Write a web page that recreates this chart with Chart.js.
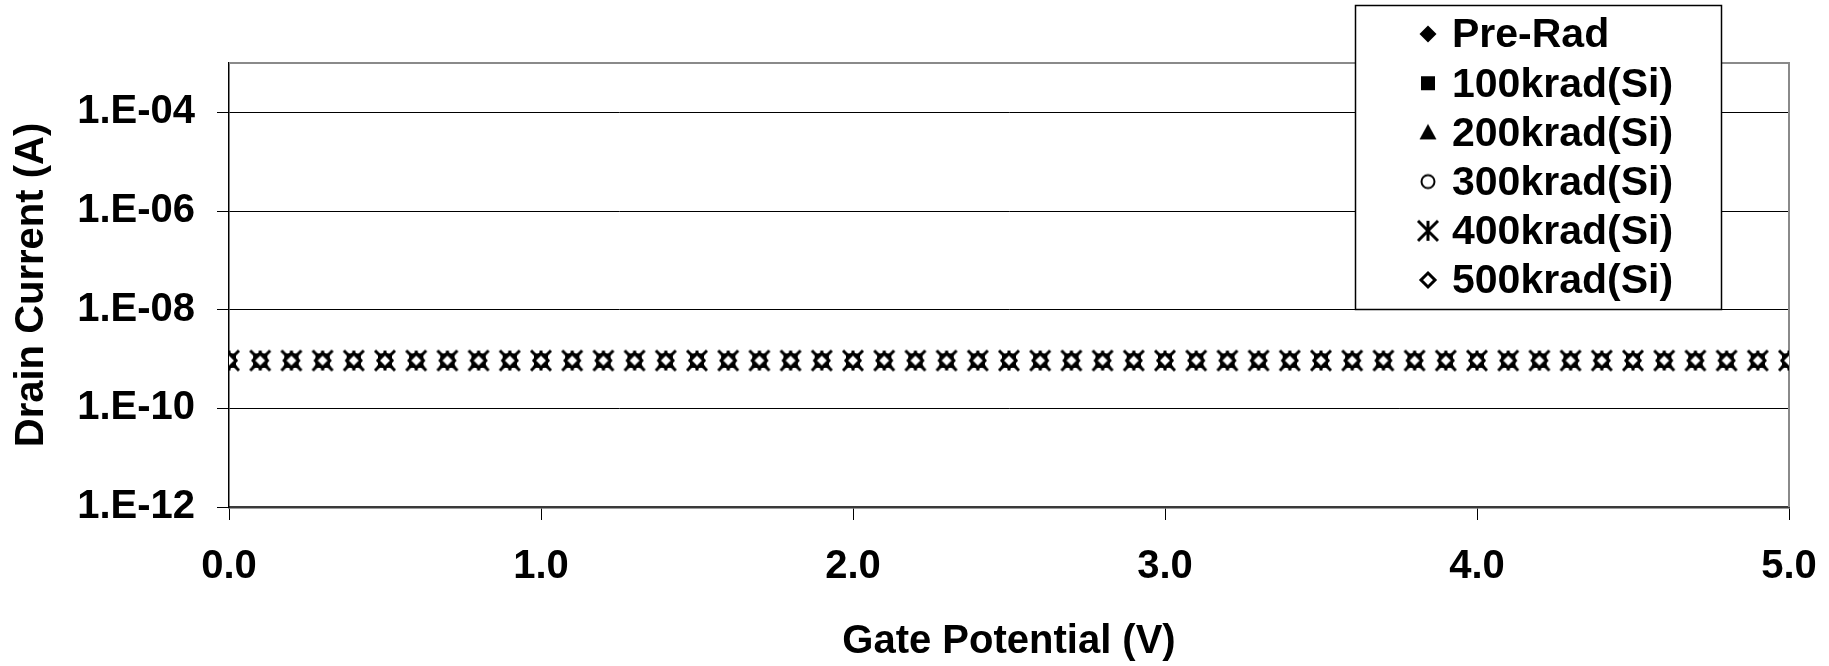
<!DOCTYPE html>
<html><head><meta charset="utf-8">
<script src="https://cdn.jsdelivr.net/npm/chart.js@4/dist/chart.umd.min.js"></script>
<style>html,body{margin:0;padding:0;background:#fff}#wrap{width:1829px;height:666px;position:relative}</style>
</head><body><div id="wrap"><canvas id="c" width="1829" height="666"></canvas></div>
<script>
// ---- data ----
const gateV = [0.0,0.1,0.2,0.3,0.4,0.5,0.6,0.7,0.8,0.9,1.0,1.1,1.2,1.3,1.4,1.5,1.6,1.7,1.8,1.9,2.0,2.1,2.2,2.3,2.4,2.5,2.6,2.7,2.8,2.9,3.0,3.1,3.2,3.3,3.4,3.5,3.6,3.7,3.8,3.9,4.0,4.1,4.2,4.3,4.4,4.5,4.6,4.7,4.8,4.9,5.0];
const preRad  = [9.3e-10,9.3e-10,9.3e-10,9.3e-10,9.3e-10,9.3e-10,9.3e-10,9.3e-10,9.3e-10,9.3e-10,9.3e-10,9.3e-10,9.3e-10,9.3e-10,9.3e-10,9.3e-10,9.3e-10,9.3e-10,9.3e-10,9.3e-10,9.3e-10,9.3e-10,9.3e-10,9.3e-10,9.3e-10,9.3e-10,9.3e-10,9.3e-10,9.3e-10,9.3e-10,9.3e-10,9.3e-10,9.3e-10,9.3e-10,9.3e-10,9.3e-10,9.3e-10,9.3e-10,9.3e-10,9.3e-10,9.3e-10,9.3e-10,9.3e-10,9.3e-10,9.3e-10,9.3e-10,9.3e-10,9.3e-10,9.3e-10,9.3e-10,9.3e-10];
const rad100k = [9.3e-10,9.3e-10,9.3e-10,9.3e-10,9.3e-10,9.3e-10,9.3e-10,9.3e-10,9.3e-10,9.3e-10,9.3e-10,9.3e-10,9.3e-10,9.3e-10,9.3e-10,9.3e-10,9.3e-10,9.3e-10,9.3e-10,9.3e-10,9.3e-10,9.3e-10,9.3e-10,9.3e-10,9.3e-10,9.3e-10,9.3e-10,9.3e-10,9.3e-10,9.3e-10,9.3e-10,9.3e-10,9.3e-10,9.3e-10,9.3e-10,9.3e-10,9.3e-10,9.3e-10,9.3e-10,9.3e-10,9.3e-10,9.3e-10,9.3e-10,9.3e-10,9.3e-10,9.3e-10,9.3e-10,9.3e-10,9.3e-10,9.3e-10,9.3e-10];
const rad200k = [9.3e-10,9.3e-10,9.3e-10,9.3e-10,9.3e-10,9.3e-10,9.3e-10,9.3e-10,9.3e-10,9.3e-10,9.3e-10,9.3e-10,9.3e-10,9.3e-10,9.3e-10,9.3e-10,9.3e-10,9.3e-10,9.3e-10,9.3e-10,9.3e-10,9.3e-10,9.3e-10,9.3e-10,9.3e-10,9.3e-10,9.3e-10,9.3e-10,9.3e-10,9.3e-10,9.3e-10,9.3e-10,9.3e-10,9.3e-10,9.3e-10,9.3e-10,9.3e-10,9.3e-10,9.3e-10,9.3e-10,9.3e-10,9.3e-10,9.3e-10,9.3e-10,9.3e-10,9.3e-10,9.3e-10,9.3e-10,9.3e-10,9.3e-10,9.3e-10];
const rad300k = [9.3e-10,9.3e-10,9.3e-10,9.3e-10,9.3e-10,9.3e-10,9.3e-10,9.3e-10,9.3e-10,9.3e-10,9.3e-10,9.3e-10,9.3e-10,9.3e-10,9.3e-10,9.3e-10,9.3e-10,9.3e-10,9.3e-10,9.3e-10,9.3e-10,9.3e-10,9.3e-10,9.3e-10,9.3e-10,9.3e-10,9.3e-10,9.3e-10,9.3e-10,9.3e-10,9.3e-10,9.3e-10,9.3e-10,9.3e-10,9.3e-10,9.3e-10,9.3e-10,9.3e-10,9.3e-10,9.3e-10,9.3e-10,9.3e-10,9.3e-10,9.3e-10,9.3e-10,9.3e-10,9.3e-10,9.3e-10,9.3e-10,9.3e-10,9.3e-10];
const rad400k = [9.3e-10,9.3e-10,9.3e-10,9.3e-10,9.3e-10,9.3e-10,9.3e-10,9.3e-10,9.3e-10,9.3e-10,9.3e-10,9.3e-10,9.3e-10,9.3e-10,9.3e-10,9.3e-10,9.3e-10,9.3e-10,9.3e-10,9.3e-10,9.3e-10,9.3e-10,9.3e-10,9.3e-10,9.3e-10,9.3e-10,9.3e-10,9.3e-10,9.3e-10,9.3e-10,9.3e-10,9.3e-10,9.3e-10,9.3e-10,9.3e-10,9.3e-10,9.3e-10,9.3e-10,9.3e-10,9.3e-10,9.3e-10,9.3e-10,9.3e-10,9.3e-10,9.3e-10,9.3e-10,9.3e-10,9.3e-10,9.3e-10,9.3e-10,9.3e-10];
const rad500k = [9.3e-10,9.3e-10,9.3e-10,9.3e-10,9.3e-10,9.3e-10,9.3e-10,9.3e-10,9.3e-10,9.3e-10,9.3e-10,9.3e-10,9.3e-10,9.3e-10,9.3e-10,9.3e-10,9.3e-10,9.3e-10,9.3e-10,9.3e-10,9.3e-10,9.3e-10,9.3e-10,9.3e-10,9.3e-10,9.3e-10,9.3e-10,9.3e-10,9.3e-10,9.3e-10,9.3e-10,9.3e-10,9.3e-10,9.3e-10,9.3e-10,9.3e-10,9.3e-10,9.3e-10,9.3e-10,9.3e-10,9.3e-10,9.3e-10,9.3e-10,9.3e-10,9.3e-10,9.3e-10,9.3e-10,9.3e-10,9.3e-10,9.3e-10,9.3e-10];
const seriesLabels = ['Pre-Rad','100krad(Si)','200krad(Si)','300krad(Si)','400krad(Si)','500krad(Si)'];
const xTickValues = [0,1,2,3,4,5];
const xTickLabels = ['0.0','1.0','2.0','3.0','4.0','5.0'];
const yTickValues = [1e-12,1e-10,1e-8,1e-6,1e-4];
const yTickLabels = ['1.E-12','1.E-10','1.E-08','1.E-06','1.E-04'];
const xTitle = 'Gate Potential (V)';
const yTitle = 'Drain Current (A)';

// ---- marker images ----
function mk(draw){const c=document.createElement('canvas');c.width=28;c.height=28;const g=c.getContext('2d');g.translate(14,14);g.fillStyle='#000';g.strokeStyle='#000';draw(g);return c;}
const markers = [
  mk(g=>{g.beginPath();g.moveTo(0,-8.5);g.lineTo(8.5,0);g.lineTo(0,8.5);g.lineTo(-8.5,0);g.closePath();g.fill();}),
  mk(g=>{g.fillRect(-7,-7,14,14);}),
  mk(g=>{g.beginPath();g.moveTo(0,-8.5);g.lineTo(8.5,7);g.lineTo(-8.5,7);g.closePath();g.fill();}),
  mk(g=>{g.beginPath();g.arc(0,0,6.5,0,Math.PI*2);g.fillStyle='#fff';g.fill();g.lineWidth=2;g.stroke();}),
  mk(g=>{g.lineWidth=3;g.beginPath();g.moveTo(-10,-10);g.lineTo(10,10);g.moveTo(-10,10);g.lineTo(10,-10);g.moveTo(0,-10);g.lineTo(0,10);g.stroke();}),
  mk(g=>{g.beginPath();g.moveTo(0,-7);g.lineTo(7,0);g.lineTo(0,7);g.lineTo(-7,0);g.closePath();g.fillStyle='#fff';g.fill();g.lineWidth=3;g.stroke();})
];

const seriesValues = [preRad, rad100k, rad200k, rad300k, rad400k, rad500k];
const datasets = seriesValues.map((vals,i)=>({
  label: seriesLabels[i],
  data: gateV.map((x,j)=>({x:x,y:vals[j]})),
  showLine:false,
  order: seriesValues.length - 1 - i,
  pointStyle: markers[i],
  pointRadius: 10,
  borderColor:'#000', backgroundColor:'#000'
}));

const FONT = '"Liberation Sans", Arial, sans-serif';
Chart.defaults.font.family = FONT;
Chart.defaults.font.size = 40;
Chart.defaults.font.weight = 'bold';
Chart.defaults.color = '#000';

const bgPlugin = {id:'bg', beforeDraw(ch){const c=ch.ctx;c.save();c.fillStyle='#fff';c.fillRect(0,0,ch.width,ch.height);c.restore();}};
const framePlugin = {id:'frame', beforeDatasetsDraw(ch){const a=ch.chartArea,c=ch.ctx;c.save();c.strokeStyle='#8a8a8a';c.lineWidth=2;c.beginPath();c.moveTo(a.left,a.top);c.lineTo(a.right,a.top);c.lineTo(a.right,a.bottom);c.stroke();c.restore();}};
const legendPlugin = {id:'customLegend', afterDraw(ch){
  const c=ch.ctx; c.save();
  const bx=1355, by=5, bw=366, bh=304;
  c.fillStyle='#fff'; c.fillRect(bx,by,bw,bh);
  c.strokeStyle='#000'; c.lineWidth=1.5; c.strokeRect(bx+0.5,by+0.5,bw,bh);
  c.font='bold 41px '+FONT; c.fillStyle='#000'; c.textBaseline='middle'; c.textAlign='left';
  ch.data.datasets.forEach((ds,i)=>{
    const y = 34 + i*49.2;
    const m = ds.pointStyle;
    c.drawImage(m, 1428 - m.width/2, y - m.height/2);
    c.fillText(ds.label, 1452, y+2);
  });
  c.restore();
}};

new Chart(document.getElementById('c'), {
  type:'scatter',
  data:{datasets},
  options:{
    responsive:false, animation:false, devicePixelRatio:1,
    layout:{padding:{top:63,right:40,left:0,bottom:0}},
    plugins:{legend:{display:false}, tooltip:{enabled:false}},
    scales:{
      x:{type:'linear', min:0, max:5,
        afterBuildTicks(ax){ax.ticks = xTickValues.map(v=>({value:v}));},
        afterFit(ax){ax.height = 159; ax.paddingRight = 0; ax.paddingLeft = 0;},
        ticks:{padding:23, maxRotation:0, autoSkip:false, callback:(v,i)=>xTickLabels[i]},
        grid:{drawOnChartArea:false, drawTicks:true, tickLength:13, color:'#000', lineWidth:1},
        border:{display:true, color:'#3a3a3a', width:2.5},
        title:{display:true, text:xTitle, font:{size:40}, padding:{top:0,bottom:0}}
      },
      y:{type:'logarithmic', min:1e-12, max:1e-3,
        afterBuildTicks(ax){ax.ticks = yTickValues.map(v=>({value:v}));},
        afterFit(ax){ax.width = 229; ax.paddingTop = 0; ax.paddingBottom = 0;},
        ticks:{padding:22, autoSkip:false, callback:(v,i)=>yTickLabels[i]},
        grid:{drawOnChartArea:true, drawTicks:true, tickLength:12, color:'#000', lineWidth:1},
        border:{display:true, color:'#000', width:1.5},
        title:{display:true, text:yTitle, font:{size:40}, padding:{top:8,bottom:0}}
      }
    }
  },
  plugins:[bgPlugin, framePlugin, legendPlugin]
});
</script></body></html>
